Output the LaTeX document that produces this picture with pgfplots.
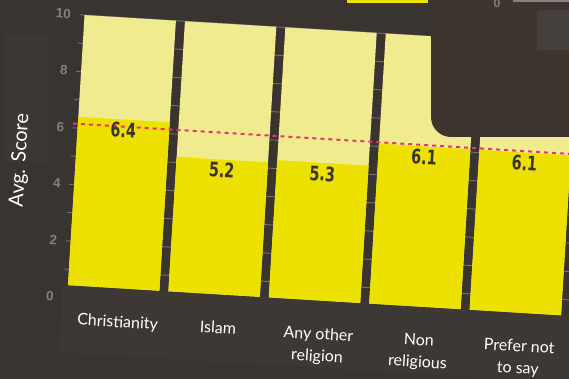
\documentclass[border=0pt]{standalone}
\usepackage{pgfplots}
\pgfplotsset{compat=1.18}
\usepackage{fontspec}
\setmainfont{Lato}
\newfontfamily\numfont{DejaVu Sans Condensed}
\newfontfamily\tickfont{Liberation Sans}
\definecolor{bg}{HTML}{3A3430}
\definecolor{card}{HTML}{3D3834}
\definecolor{ovcol}{HTML}{3E3531}
\definecolor{inner}{HTML}{45403C}
\definecolor{lightyel}{HTML}{F1EB8F}
\definecolor{yel}{HTML}{ECE100}
\definecolor{gridc}{HTML}{77726D}
\definecolor{tickc}{HTML}{85807B}
\definecolor{avgred}{HTML}{E8336B}
\definecolor{darktxt}{HTML}{3A3430}
\begin{document}
\begin{tikzpicture}[x=1pt,y=1pt]
\fill[bg] (0,0) rectangle (569,379);
\begin{scope}
\clip (0,0) rectangle (569,379);
% fragment of a card above
\fill[yel] (347,376) rectangle (428,380);
% box behind the y label
\fill[card] (5,217) rectangle (47,344);
\begin{scope}[shift={(63.0,94.2)}, rotate=-3.5, transform shape]
% card that holds the category labels
\fill[card] (0,-67.4) rectangle (560,0);
\begin{axis}[
  scale only axis, width=508.5pt, height=270.5pt,
  xmin=-0.505, xmax=4.55, ymin=0.44, ymax=10,
  /pgf/number format/assume math mode=true,
  axis line style={draw=none},
  tick style={draw=none},
  ytick={0,2,4,6,8,10},
  minor ytick={1,3,5,7,9},
  ymajorgrids, yminorgrids,
  grid style={gridc, line width=0.9pt},
  minor grid style={gridc, line width=0.9pt},
  yticklabel style={font=\tickfont\bfseries\fontsize{13.5}{13.5}\selectfont, text=tickc, xshift=-5pt},
  extra y ticks={0.44},
  extra y tick labels={0},
  extra y tick style={ymajorgrids=false, yticklabel style={yshift=-12.45pt}},
  xtick={0,1,2,3,4},
  xticklabels={Christianity, Islam, {Any other\\religion}, {Non\\religious}, {Prefer not\\to say}},
  xticklabel style={font=\fontsize{16}{22}\selectfont, text=white, align=center, anchor=north, yshift=-19.5pt, xshift=6pt},
  ylabel={Avg. Score},
  ylabel style={font=\fontsize{20}{20}\selectfont, text=white, at={(axis description cs:-0.099,0.45)}, anchor=center},
  ybar, bar width=0.91, bar shift=0pt,
]
\addplot[draw=none, fill=lightyel] coordinates {(0,10) (1,10) (2,10) (3,10) (4,10)};
\addplot[draw=none, fill=yel,
  nodes near coords,
  nodes near coords style={anchor=north, inner sep=0pt, yshift=-3pt, xscale=0.8, font=\numfont\bfseries\fontsize{20}{20}\selectfont, text=darktxt,
  /pgf/number format/.cd, fixed, precision=1, fixed zerofill, assume math mode=true}]
  coordinates {(0,6.4) (1,5.2) (2,5.3) (3,6.1) (4,6.1)};
\draw[avgred, line width=2pt, dash pattern=on 4pt off 4pt] (axis cs:-0.505,6.15) -- (axis cs:4.55,6.15);
\end{axis}
\end{scope}
% overlapping dark card at the upper right
\fill[ovcol, rounded corners=20pt] (431,242) rectangle (620,420);
\fill[inner] (537,329) rectangle (569,369);
\fill[tickc] (513,377) rectangle (569,380);
\node[text=tickc, font=\tickfont\bfseries\fontsize{12}{12}\selectfont] at (497,376) {0};
\end{scope}
\pgfresetboundingbox
\path[use as bounding box] (0,0) rectangle (569,379);
\end{tikzpicture}
\end{document}
